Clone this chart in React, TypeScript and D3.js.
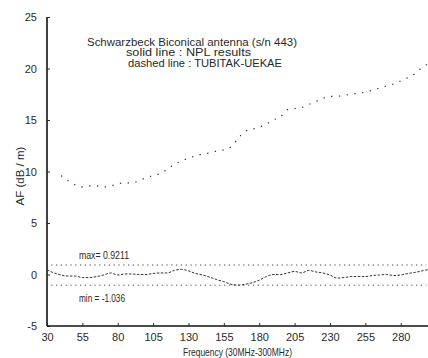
import { useEffect, useRef } from 'react';
import * as d3 from 'd3';

// Frequency points (MHz), one every 5 MHz
const freqs = d3.range(30, 301, 5);

// Antenna factor, dB/m (starts at 40 MHz)
const afFreqs = d3.range(40, 301, 5);
const afValues = [
  9.6, 9.1, 8.7, 8.5, 8.6, 8.6, 8.5, 8.6, 8.8, 8.9, 8.9, 9.1, 9.4, 9.6, 9.8, 10.2,
  10.7, 11.0, 11.3, 11.5, 11.7, 11.8, 12.0, 12.1, 12.4, 13.2, 13.9, 14.1, 14.3, 14.6,
  15.0, 15.3, 16.0, 16.1, 16.2, 16.5, 16.8, 17.1, 17.3, 17.3, 17.4, 17.5, 17.6, 17.7,
  17.9, 18.1, 18.3, 18.5, 18.8, 19.1, 19.5, 20.1, 20.5,
];

// Difference NPL - TUBITAK, dB
const diffValues = [
  0.45, 0.15, -0.05, -0.15, -0.15, -0.3, -0.3, -0.2, -0.05, 0.15, -0.05, 0.05, 0.05,
  0.0, 0.0, 0.1, 0.15, 0.15, 0.4, 0.5, 0.35, 0.1, -0.05, -0.25, -0.5, -0.7, -0.95,
  -1.036, -0.95, -0.8, -0.55, -0.2, 0.0, 0.0, 0.15, 0.3, 0.15, 0.4, 0.25, 0.15, -0.05,
  -0.35, -0.3, -0.2, -0.2, -0.2, -0.1, -0.05, 0.0, -0.1, -0.05, 0.1, 0.2, 0.35, 0.5,
];

const maxDiff = 0.9211;
const minDiff = -1.036;

const xTicks = [30, 55, 80, 105, 130, 155, 180, 205, 230, 255, 280];
const yTicks = [-5, 0, 5, 10, 15, 20, 25];

const titleLines = [
  'Schwarzbeck Biconical antenna (s/n 443)',
  'solid line : NPL results',
  'dashed line : TUBITAK-UEKAE',
];

const WIDTH = 428;
const HEIGHT = 358;

function AntennaChart() {
  const svgRef = useRef<SVGSVGElement>(null);

  useEffect(() => {
    if (!svgRef.current) return;
    const svg = d3.select(svgRef.current);
    svg.selectAll('*').remove();

    const ink = '#2a2a2a';
    const font = '"Liberation Sans", Arial, sans-serif';

    const x = d3.scaleLinear().domain([30, 300]).range([47, 429]);
    const y = d3.scaleLinear().domain([-5, 25]).range([326, 17]);

    // axes (only left and bottom, ticks pointing inward)
    const yAxis = d3.axisLeft(y).tickValues(yTicks).tickSize(-3).tickPadding(10)
      .tickFormat(d => String(d));
    const gy = svg.append('g').attr('transform', `translate(${x(30)},0)`).call(yAxis);
    gy.select('.domain').attr('stroke', '#111').attr('stroke-width', 1.6)
      .attr('d', `M0,${y(25)}V${y(-5)}`);
    gy.selectAll('.tick line').attr('stroke', ink);
    gy.selectAll('.tick text').attr('fill', ink).style('font-family', font).style('font-size', '11px');

    const xAxis = d3.axisBottom(x).tickValues(xTicks).tickSize(-3).tickPadding(7)
      .tickFormat(d => String(d));
    const gx = svg.append('g').attr('transform', `translate(0,${y(-5)})`).call(xAxis);
    gx.select('.domain').attr('stroke', '#111').attr('stroke-width', 1.4)
      .attr('d', `M${x(30)},0H${x(300)}`);
    gx.selectAll('.tick line').attr('stroke', ink);
    gx.selectAll('.tick text').attr('fill', ink).style('font-family', font).style('font-size', '11px');

    // max / min reference lines
    [maxDiff, minDiff].forEach(v => {
      svg.append('line')
        .attr('x1', x(33)).attr('x2', x(298))
        .attr('y1', y(v)).attr('y2', y(v))
        .attr('stroke', '#444').attr('stroke-width', 1)
        .attr('stroke-dasharray', '1.2 3.6');
    });

    const line = d3.line<[number, number]>()
      .x(d => x(d[0]))
      .y(d => y(d[1]))
      .curve(d3.curveMonotoneX);

    // antenna factor curve (NPL / TUBITAK overlap)
    svg.append('path')
      .attr('d', line(afFreqs.map((f, i) => [f, afValues[i]]) as [number, number][]))
      .attr('fill', 'none')
      .attr('stroke', '#333')
      .attr('stroke-width', 1.2)
      .attr('stroke-dasharray', '1.3 6.5');

    // difference curve
    svg.append('path')
      .attr('d', line(freqs.map((f, i) => [f, diffValues[i]]) as [number, number][]))
      .attr('fill', 'none')
      .attr('stroke', '#333')
      .attr('stroke-width', 1)
      .attr('stroke-dasharray', '2.5 1.5');

    // annotations
    svg.append('text')
      .attr('x', 79).attr('y', 259)
      .attr('fill', ink).style('font-family', font).style('font-size', '10px')
      .attr('textLength', 50).attr('lengthAdjust', 'spacingAndGlyphs')
      .text(`max= ${maxDiff}`);
    svg.append('text')
      .attr('x', 79).attr('y', 302)
      .attr('fill', ink).style('font-family', font).style('font-size', '10px')
      .attr('textLength', 46).attr('lengthAdjust', 'spacingAndGlyphs')
      .text(`min = ${minDiff}`);

    // title block
    const titleX = [87, 126, 128];
    const titleW = [210, 125, 154];
    svg.append('g').selectAll('text')
      .data(titleLines)
      .enter()
      .append('text')
      .attr('x', (_d, i) => titleX[i])
      .attr('y', (_d, i) => 45.5 + i * 10.5)
      .attr('textLength', (_d, i) => titleW[i])
      .attr('lengthAdjust', 'spacingAndGlyphs')
      .attr('fill', ink)
      .style('font-family', font)
      .style('font-size', '11px')
      .text(d => d);

    // axis titles
    svg.append('text')
      .attr('transform', `translate(24,176) rotate(-90)`)
      .attr('text-anchor', 'middle')
      .attr('fill', ink)
      .style('font-family', font)
      .style('font-size', '11.5px')
      .text('AF (dB / m)');

    svg.append('text')
      .attr('x', 183).attr('y', 356)
      .attr('textLength', 109)
      .attr('lengthAdjust', 'spacingAndGlyphs')
      .attr('fill', ink)
      .style('font-family', font)
      .style('font-size', '11px')
      .text('Frequency (30MHz-300MHz)');
  }, []);

  return (
    <svg
      ref={svgRef}
      width={WIDTH}
      height={HEIGHT}
      style={{ position: 'absolute', left: 0, top: 0, background: '#fff' }}
    />
  );
}

export default function App() {
  return <AntennaChart />;
}
